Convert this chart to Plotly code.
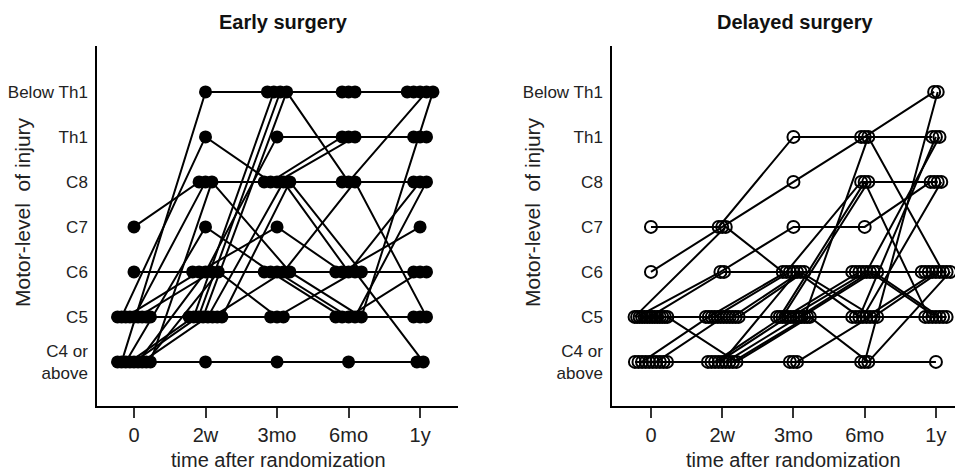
import plotly.graph_objects as go
from collections import defaultdict

# ---------------- data ----------------
time_labels = ["0", "2w", "3mo", "6mo", "1y"]
level_labels = ["C4 or<br>above", "C5", "C6", "C7", "C8", "Th1", "Below Th1"]
# level index: 0=C4 or above, 1=C5, 2=C6, 3=C7, 4=C8, 5=Th1, 6=Below Th1

early_patients = [
    [0, 0, 0, 0, 0],
    [0, 6, 6, 6, 6],
    [3, 4, 4, 4, 4],
    [2, 2, 2, 2, 2],
    [1, 1, 1, 1, 1],
    [1, 5, 4, 5, 5],
    [0, 3, 2, 1, 1],
    [1, 2, 3, 2, 3],
    [0, 1, 6, 6, 6],
    [0, 1, 6, 6, 6],
    [1, 1, 6, 4, 6],
    [0, 2, 5, 5, 5],
    [1, 4, 4, 5, 5],
    [0, 1, 4, 2, 4],
    [1, 2, 2, 1, 2],
    [1, 1, 2, 4, 1],
    [0, 2, 1, 2, 0],
    [1, 1, 1, 1, 4],
    [0, 4, 2, 1, 6],
    [1, 1, 4, 2, 2],
]

delayed_patients = [
    [3, 3, 5, 5, 5],
    [2, 3, 4, 5, 6],
    [1, 3, 2, 2, 2],
    [1, 2, 3, 3, 4],
    [0, 0, 0, 0, 0],
    [1, 1, 1, 1, 1],
    [0, 0, 0, 0, 6],
    [0, 1, 2, 4, 4],
    [1, 1, 1, 4, 1],
    [0, 0, 1, 4, 4],
    [1, 1, 2, 2, 2],
    [1, 1, 1, 2, 2],
    [0, 0, 1, 1, 1],
    [1, 2, 2, 2, 2],
    [0, 0, 2, 1, 5],
    [1, 1, 1, 2, 5],
    [0, 1, 1, 1, 4],
    [1, 1, 1, 1, 2],
    [0, 0, 1, 2, 1],
    [1, 1, 1, 2, 1],
    [0, 0, 0, 1, 1],
    [1, 1, 2, 1, 2],
    [1, 1, 1, 5, 2],
    [0, 0, 1, 1, 1],
    [1, 1, 2, 2, 2],
    [1, 0, 1, 0, 2],
]

panel_titles = ["Early surgery", "Delayed surgery"]
x_title = "time after randomization"
y_title = "Motor-level  of injury"

FONT = "Liberation Sans, Arial, sans-serif"


def spread_positions(patients, max_step, max_span=0.46):
    """Deterministic side-by-side placement of coincident points (beeswarm-like)."""
    groups = defaultdict(list)
    for p, traj in enumerate(patients):
        for t, lv in enumerate(traj):
            groups[(t, lv)].append(p)
    xs = [[0.0] * len(traj) for traj in patients]
    for (t, lv), members in groups.items():
        n = len(members)
        step = min(max_step, max_span / (n - 1)) if n > 1 else 0.0
        for i, p in enumerate(members):
            xs[p][t] = t + (i - (n - 1) / 2) * step
    return xs


fig = go.Figure()

early_x = spread_positions(early_patients, 0.09)
for traj, xs in zip(early_patients, early_x):
    fig.add_trace(go.Scatter(
        x=xs, y=traj, mode="lines+markers", xaxis="x", yaxis="y",
        line=dict(color="black", width=2),
        marker=dict(symbol="circle", size=13, color="black"),
        showlegend=False, hoverinfo="skip"))

delayed_x = spread_positions(delayed_patients, 0.05)
for traj, xs in zip(delayed_patients, delayed_x):
    fig.add_trace(go.Scatter(
        x=xs, y=traj, mode="lines+markers", xaxis="x2", yaxis="y2",
        line=dict(color="black", width=2),
        marker=dict(symbol="circle-open", size=12, color="black",
                    line=dict(color="black", width=2)),
        showlegend=False, hoverinfo="skip"))

# page body has an 8px margin: figure occupies window pixels 8..963 / 8..473
OFF = 8
W, H = 963 - OFF, 473 - OFF


def px(xw):
    return (xw - OFF) / W


def py(yw):
    return 1 - (yw - OFF) / H


y_dom = [py(406), py(46)]

xaxis_common = dict(
    tickmode="array", tickvals=list(range(len(time_labels))), ticktext=time_labels,
    showline=True, linecolor="black", linewidth=1.5,
    ticks="outside", ticklen=10, tickwidth=1.5, tickcolor="#333",
    showgrid=False, zeroline=False,
    tickfont=dict(family=FONT, size=20, color="#222"), fixedrange=True)
yaxis_common = dict(
    tickmode="array", tickvals=list(range(len(level_labels))), ticktext=level_labels,
    range=[-0.98, 7.02], showline=True, linecolor="black", linewidth=1.5,
    ticks="", showgrid=False, zeroline=False, ticklabelstandoff=4,
    tickfont=dict(family=FONT, size=17, color="#222"), fixedrange=True)

fig.update_layout(
    width=W, height=H, margin=dict(l=0, r=0, t=0, b=0),
    paper_bgcolor="white", plot_bgcolor="white",
    xaxis=dict(domain=[px(97), px(458)], range=[-0.517, 4.53], anchor="y", **xaxis_common),
    yaxis=dict(domain=y_dom, anchor="x", **yaxis_common),
    xaxis2=dict(domain=[px(612), 1.0], range=[-0.547, 4.38], anchor="y2", **xaxis_common),
    yaxis2=dict(domain=y_dom, anchor="x2", **yaxis_common),
)

annotations = []
for title, cx in zip(panel_titles, [283, 795]):
    annotations.append(dict(text="<b>%s</b>" % title, x=px(cx), y=py(22),
                            xref="paper", yref="paper", showarrow=False,
                            font=dict(family=FONT, size=20, color="#111"),
                            xanchor="center", yanchor="middle"))
for cx in [278, 793]:
    annotations.append(dict(text=x_title, x=px(cx), y=py(460),
                            xref="paper", yref="paper", showarrow=False,
                            font=dict(family=FONT, size=20, color="#222"),
                            xanchor="center", yanchor="middle"))
for cx in [22, 532]:
    annotations.append(dict(text=y_title, x=px(cx), y=py(212),
                            xref="paper", yref="paper", showarrow=False, textangle=-90,
                            font=dict(family=FONT, size=21, color="#222"),
                            xanchor="center", yanchor="middle"))
fig.update_layout(annotations=annotations)

fig.write_html("out.html")
